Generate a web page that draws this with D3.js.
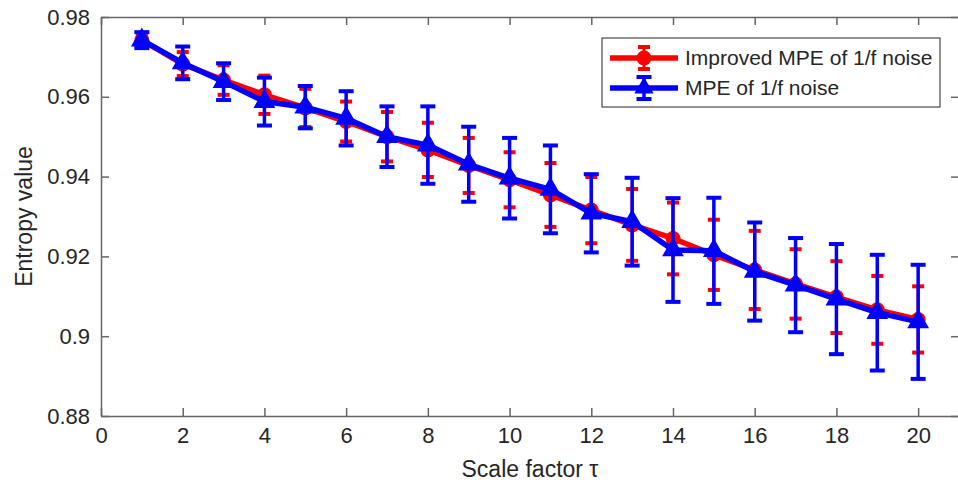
<!DOCTYPE html>
<html>
<head>
<meta charset="utf-8">
<script src="https://cdn.jsdelivr.net/npm/d3@7"></script>
<style>
  body { margin: 0; background: #fff; }
  svg { display: block; }
  text { font-family: "Liberation Sans", Arial, sans-serif; fill: #262626; }
</style>
</head>
<body>
<svg id="chart" width="958" height="486"></svg>
<script>
// ---- data ----
const scales = [1,2,3,4,5,6,7,8,9,10,11,12,13,14,15,16,17,18,19,20];
const improvedMean = [0.9742,0.9682,0.9642,0.9605,0.9572,0.9538,0.9500,0.9467,0.9428,0.9392,0.9354,0.9316,0.9279,0.9245,0.9204,0.9166,0.9131,0.9098,0.9066,0.9042];
const improvedErr  = [0.0015,0.0030,0.0037,0.0048,0.0048,0.0050,0.0062,0.0068,0.0069,0.0069,0.0080,0.0083,0.0090,0.0090,0.0088,0.0098,0.0087,0.0090,0.0085,0.0083];
const mpeMean = [0.9742,0.9685,0.9638,0.9588,0.9574,0.9546,0.9500,0.9479,0.9431,0.9396,0.9368,0.9308,0.9287,0.9216,0.9214,0.9162,0.9128,0.9093,0.9059,0.9036];
const mpeErr  = [0.0020,0.0041,0.0046,0.0060,0.0053,0.0068,0.0076,0.0097,0.0094,0.0101,0.0110,0.0098,0.0110,0.0130,0.0133,0.0123,0.0118,0.0138,0.0145,0.0143];
const xTicks = [0,2,4,6,8,10,12,14,16,18,20];
const yTicks = [0.88,0.9,0.92,0.94,0.96,0.98];
const yTickLabels = ["0.88","0.9","0.92","0.94","0.96","0.98"];
const seriesNames = ["Improved MPE of 1/f noise","MPE of 1/f noise"];
const seriesColors = ["#ff0000","#0000ff"];
const xLabel = "Scale factor \u03c4";
const yLabel = "Entropy value";

// ---- layout ----
const L = 101, R = 959, T = 17, B = 416;
const svg = d3.select("#chart");
const x = d3.scaleLinear().domain([0,21]).range([L,R]);
const y = d3.scaleLinear().domain([0.88,0.98]).range([B,T]);
const axisColor = "#666666";

// axes (box with inward ticks)
const gx = svg.append("g").attr("transform",`translate(0,${B})`)
  .call(d3.axisBottom(x).tickValues(xTicks).tickFormat(d3.format("d")).tickSizeInner(-8).tickSizeOuter(0).tickPadding(14));
const gxt = svg.append("g").attr("transform",`translate(0,${T})`)
  .call(d3.axisTop(x).tickValues(xTicks).tickFormat("").tickSizeInner(-8).tickSizeOuter(0));
const gy = svg.append("g").attr("transform",`translate(${L},0)`)
  .call(d3.axisLeft(y).tickValues(yTicks).tickFormat((d,i)=>yTickLabels[i]).tickSizeInner(-8).tickSizeOuter(0).tickPadding(11));
const gyr = svg.append("g").attr("transform",`translate(${R},0)`)
  .call(d3.axisRight(y).tickValues(yTicks).tickFormat("").tickSizeInner(-8).tickSizeOuter(0));
[gx,gxt,gy,gyr].forEach(g=>{
  g.selectAll("path").attr("stroke",axisColor).attr("stroke-width",1.5);
  g.selectAll("line").attr("stroke",axisColor).attr("stroke-width",1.5);
  g.selectAll("text").attr("font-size",22).attr("fill","#262626")
    .style("font-family",'"Liberation Sans", Arial, sans-serif');
});
gx.selectAll("text").attr("dy","0.6em");

// axis labels
svg.append("text").attr("x",(L+R)/2).attr("y",477).attr("text-anchor","middle")
  .attr("font-size",23).text(xLabel);
svg.append("text").attr("transform",`translate(32,${(T+B)/2}) rotate(-90)`)
  .attr("text-anchor","middle").attr("font-size",23).text(yLabel);

// series
const series = [
  {mean: improvedMean, err: improvedErr, color: seriesColors[0], marker: "circle", capW: 12, barW: 3},
  {mean: mpeMean, err: mpeErr, color: seriesColors[1], marker: "triangle", capW: 15, barW: 3.5}
];
const triSym = d3.symbol().type(d3.symbolTriangle).size(160);

series.forEach(s => {
  const g = svg.append("g");
  const data = scales.map((k,i)=>({k, m: s.mean[i], e: s.err[i]}));
  // error bars
  g.selectAll(".bar").data(data).enter().append("line")
    .attr("x1",d=>x(d.k)).attr("x2",d=>x(d.k))
    .attr("y1",d=>y(d.m+d.e)).attr("y2",d=>y(d.m-d.e))
    .attr("stroke",s.color).attr("stroke-width",s.barW);
  ["top","bot"].forEach(pos=>{
    g.selectAll(".cap"+pos).data(data).enter().append("line")
      .attr("x1",d=>x(d.k)-s.capW/2).attr("x2",d=>x(d.k)+s.capW/2)
      .attr("y1",d=>y(pos==="top"?d.m+d.e:d.m-d.e)).attr("y2",d=>y(pos==="top"?d.m+d.e:d.m-d.e))
      .attr("stroke",s.color).attr("stroke-width",4);
  });
  // line
  g.append("path").datum(data)
    .attr("d", d3.line().x(d=>x(d.k)).y(d=>y(d.m)))
    .attr("fill","none").attr("stroke",s.color).attr("stroke-width",5.5).attr("stroke-linejoin","round");
  // markers
  if (s.marker === "circle") {
    g.selectAll(".mk").data(data).enter().append("circle")
      .attr("cx",d=>x(d.k)).attr("cy",d=>y(d.m)).attr("r",7.5).attr("fill",s.color);
  } else {
    g.selectAll(".mk").data(data).enter().append("path")
      .attr("d",triSym).attr("transform",d=>`translate(${x(d.k)},${y(d.m)})`).attr("fill",s.color)
      .attr("stroke",s.color).attr("stroke-width",1.5);
  }
});

// legend
const lg = svg.append("g");
lg.append("rect").attr("x",602).attr("y",38).attr("width",338).attr("height",69)
  .attr("fill","#fff").attr("stroke","#262626").attr("stroke-width",1);
series.forEach((s,i)=>{
  const cy = 58 + i*30, cx = 644;
  lg.append("line").attr("x1",610).attr("x2",678).attr("y1",cy).attr("y2",cy)
    .attr("stroke",s.color).attr("stroke-width",5.5);
  lg.append("line").attr("x1",cx).attr("x2",cx).attr("y1",cy-11).attr("y2",cy+11)
    .attr("stroke",s.color).attr("stroke-width",s.barW);
  [cy-11,cy+11].forEach(yy=>lg.append("line").attr("x1",cx-s.capW/2).attr("x2",cx+s.capW/2)
    .attr("y1",yy).attr("y2",yy).attr("stroke",s.color).attr("stroke-width",4));
  if (s.marker==="circle") lg.append("circle").attr("cx",cx).attr("cy",cy).attr("r",7.5).attr("fill",s.color);
  else lg.append("path").attr("d",triSym).attr("transform",`translate(${cx},${cy})`).attr("fill",s.color);
  lg.append("text").attr("x",685).attr("y",cy).attr("dy","0.35em").attr("font-size",21)
    .attr("fill","#000").text(seriesNames[i]);
});
</script>
</body>
</html>
